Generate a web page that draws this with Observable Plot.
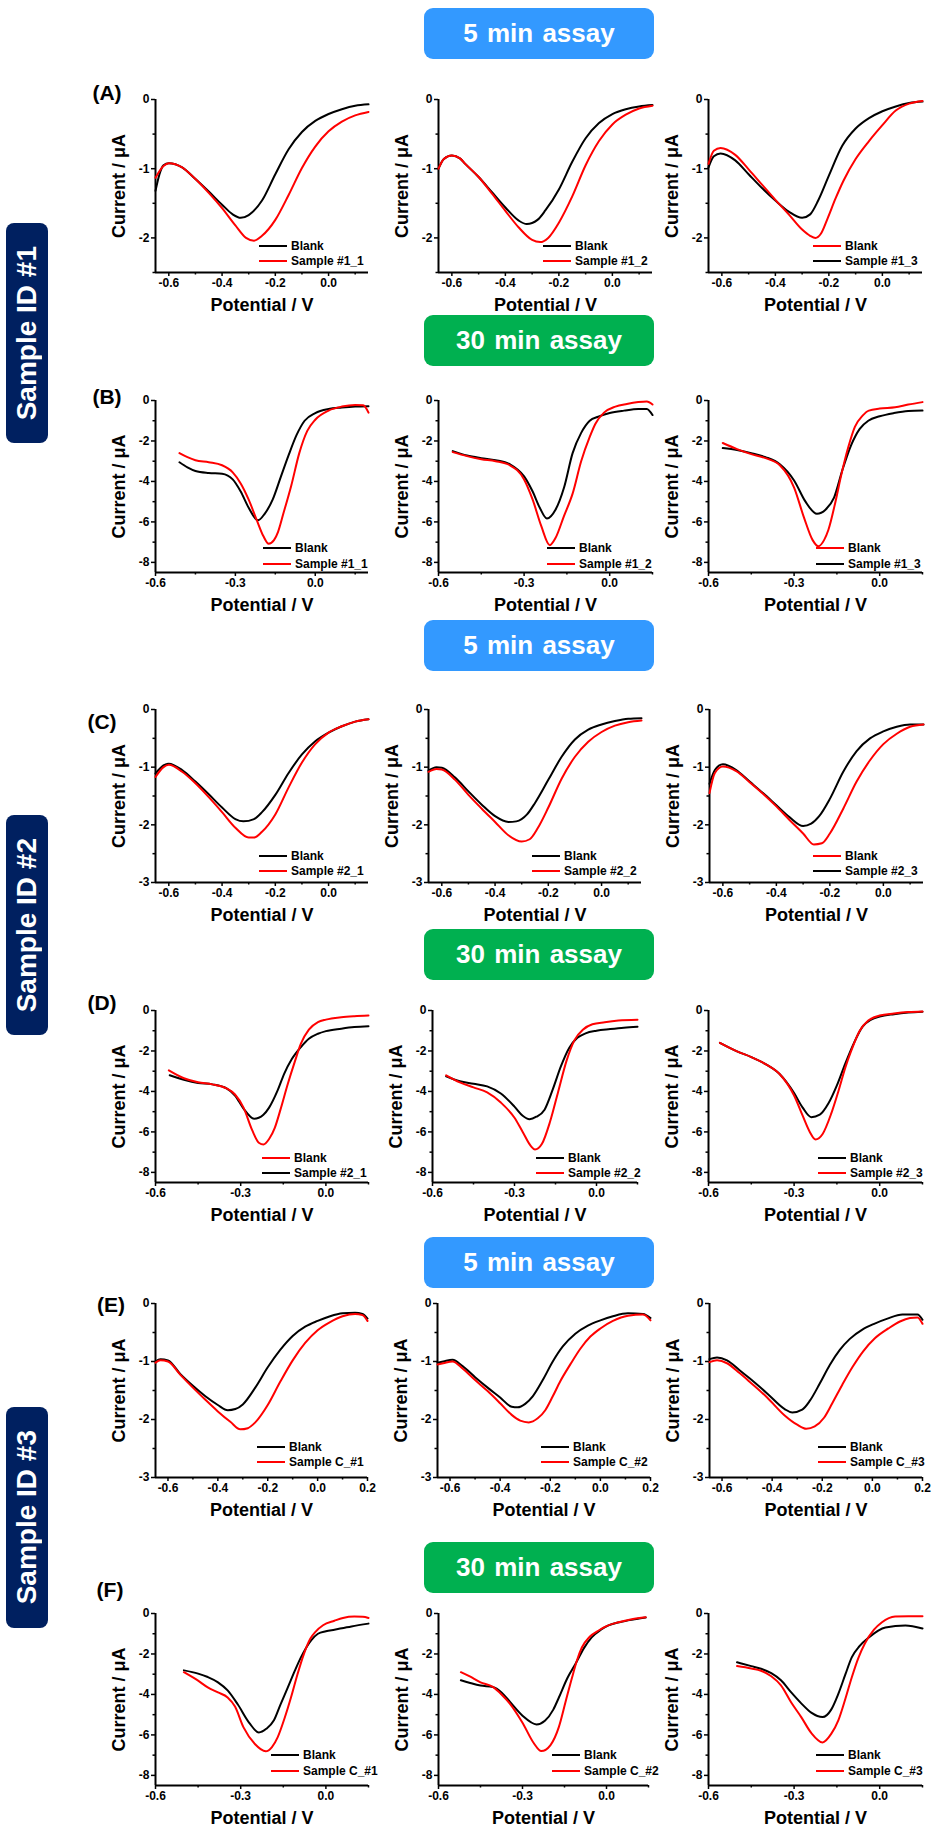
<!DOCTYPE html>
<html><head><meta charset="utf-8">
<script src="https://cdn.jsdelivr.net/npm/d3@7"></script>
<script src="https://cdn.jsdelivr.net/npm/@observablehq/plot@0.6"></script>
<style>
body{margin:0;background:#fff;}
#fig{position:relative;width:932px;height:1829px;overflow:hidden;font-family:'Liberation Sans',Arial,sans-serif;background:#fff;}
.banner{position:absolute;left:424px;width:230px;height:51px;border-radius:9px;color:#fff;font-weight:bold;font-size:26px;display:flex;align-items:center;justify-content:center;word-spacing:2px;}
.side{position:absolute;left:6px;width:42px;border-radius:8px;background:#002060;color:#fff;display:flex;align-items:center;justify-content:center;}
.side span{writing-mode:vertical-rl;transform:rotate(180deg);font-weight:bold;font-size:28px;white-space:nowrap;}
.letter{position:absolute;font-weight:bold;font-size:21px;transform:translate(-50%,-50%);}
svg.panel{position:absolute;overflow:visible;}
svg.panel text{font-weight:bold;}
svg.panel g[aria-label$="tick label"] text{font-size:12px !important;font-weight:bold !important;fill:#000;}
</style></head>
<body><div id="fig"></div>
<script>
// ---------- DATA (Potential V, Current µA) ----------
const a1Black=[[-0.65,-1.32],[-0.635,-1.08],[-0.62,-0.95],[-0.60,-0.92],[-0.55,-0.98],[-0.50,-1.15],[-0.45,-1.33],[-0.40,-1.52],[-0.36,-1.66],[-0.33,-1.71],[-0.30,-1.67],[-0.25,-1.46],[-0.20,-1.08],[-0.15,-0.72],[-0.10,-0.47],[-0.05,-0.31],[0.00,-0.21],[0.05,-0.14],[0.10,-0.09],[0.15,-0.07]];
const a1Red=[[-0.65,-1.13],[-0.62,-0.96],[-0.60,-0.92],[-0.55,-0.98],[-0.50,-1.15],[-0.45,-1.35],[-0.40,-1.57],[-0.35,-1.82],[-0.31,-2.0],[-0.28,-2.04],[-0.25,-1.97],[-0.20,-1.74],[-0.15,-1.38],[-0.10,-0.99],[-0.05,-0.68],[0.00,-0.46],[0.05,-0.32],[0.10,-0.23],[0.15,-0.18]];
const a2Black=[[-0.65,-1.0],[-0.63,-0.86],[-0.60,-0.81],[-0.57,-0.85],[-0.55,-0.93],[-0.50,-1.12],[-0.45,-1.34],[-0.40,-1.56],[-0.35,-1.75],[-0.32,-1.80],[-0.28,-1.74],[-0.25,-1.60],[-0.20,-1.30],[-0.15,-0.90],[-0.10,-0.56],[-0.05,-0.34],[0.00,-0.21],[0.05,-0.14],[0.10,-0.10],[0.15,-0.08]];
const a2Red=[[-0.65,-1.0],[-0.63,-0.86],[-0.60,-0.81],[-0.57,-0.85],[-0.55,-0.93],[-0.50,-1.12],[-0.45,-1.36],[-0.40,-1.61],[-0.35,-1.85],[-0.30,-2.03],[-0.27,-2.06],[-0.24,-2.0],[-0.20,-1.78],[-0.15,-1.40],[-0.10,-0.95],[-0.05,-0.60],[0.00,-0.36],[0.05,-0.22],[0.10,-0.13],[0.15,-0.09]];
const a3Black=[[-0.65,-0.98],[-0.63,-0.82],[-0.605,-0.78],[-0.55,-0.88],[-0.50,-1.08],[-0.45,-1.28],[-0.40,-1.46],[-0.35,-1.62],[-0.30,-1.71],[-0.27,-1.66],[-0.24,-1.46],[-0.20,-1.10],[-0.15,-0.67],[-0.10,-0.42],[-0.05,-0.27],[0.00,-0.17],[0.05,-0.10],[0.10,-0.05],[0.15,-0.03]];
const a3Red=[[-0.65,-0.93],[-0.63,-0.74],[-0.605,-0.70],[-0.55,-0.80],[-0.50,-1.01],[-0.45,-1.23],[-0.40,-1.45],[-0.35,-1.66],[-0.30,-1.88],[-0.27,-1.97],[-0.25,-2.0],[-0.23,-1.94],[-0.205,-1.72],[-0.175,-1.43],[-0.145,-1.17],[-0.10,-0.86],[-0.05,-0.60],[0.00,-0.37],[0.05,-0.16],[0.10,-0.06],[0.15,-0.02]];
const b1Black=[[-0.51,-3.05],[-0.48,-3.3],[-0.45,-3.48],[-0.40,-3.58],[-0.35,-3.62],[-0.31,-3.9],[-0.28,-4.5],[-0.25,-5.3],[-0.215,-5.92],[-0.19,-5.6],[-0.16,-4.9],[-0.13,-3.8],[-0.10,-2.7],[-0.07,-1.7],[-0.04,-1.0],[0.00,-0.62],[0.05,-0.42],[0.10,-0.35],[0.15,-0.3],[0.20,-0.28]];
const b1Red=[[-0.51,-2.6],[-0.48,-2.8],[-0.45,-2.95],[-0.40,-3.05],[-0.35,-3.2],[-0.31,-3.55],[-0.28,-4.1],[-0.25,-4.9],[-0.22,-5.9],[-0.195,-6.7],[-0.175,-7.08],[-0.155,-6.9],[-0.14,-6.5],[-0.12,-5.6],[-0.09,-4.2],[-0.06,-2.6],[-0.03,-1.5],[0.00,-0.95],[0.05,-0.5],[0.10,-0.3],[0.15,-0.22],[0.18,-0.24],[0.20,-0.6]];
const b2Black=[[-0.55,-2.5],[-0.50,-2.72],[-0.45,-2.85],[-0.40,-2.95],[-0.35,-3.15],[-0.30,-3.75],[-0.27,-4.5],[-0.245,-5.3],[-0.22,-5.83],[-0.19,-5.4],[-0.16,-4.3],[-0.13,-2.6],[-0.10,-1.6],[-0.07,-1.0],[-0.04,-0.8],[0.00,-0.62],[0.05,-0.5],[0.10,-0.42],[0.13,-0.42],[0.15,-0.72]];
const b2Red=[[-0.55,-2.55],[-0.50,-2.75],[-0.45,-2.9],[-0.40,-3.0],[-0.35,-3.2],[-0.30,-3.9],[-0.27,-4.9],[-0.24,-6.2],[-0.21,-7.15],[-0.19,-6.8],[-0.16,-5.7],[-0.13,-4.6],[-0.10,-3.0],[-0.07,-1.8],[-0.05,-1.15],[-0.02,-0.6],[0.02,-0.3],[0.06,-0.17],[0.10,-0.08],[0.13,-0.05],[0.15,-0.2]];
const b3Black=[[-0.55,-2.35],[-0.50,-2.45],[-0.45,-2.6],[-0.40,-2.8],[-0.35,-3.15],[-0.30,-3.95],[-0.26,-5.0],[-0.22,-5.6],[-0.19,-5.4],[-0.16,-4.8],[-0.13,-3.4],[-0.10,-2.2],[-0.07,-1.4],[-0.04,-1.0],[0.00,-0.78],[0.05,-0.62],[0.10,-0.52],[0.15,-0.5]];
const b3Red=[[-0.55,-2.1],[-0.50,-2.4],[-0.45,-2.65],[-0.40,-2.85],[-0.35,-3.2],[-0.30,-4.3],[-0.265,-5.8],[-0.235,-6.9],[-0.215,-7.2],[-0.195,-6.9],[-0.18,-6.4],[-0.155,-5.0],[-0.135,-3.7],[-0.11,-2.3],[-0.087,-1.3],[-0.06,-0.75],[-0.038,-0.5],[0.00,-0.4],[0.054,-0.33],[0.10,-0.2],[0.15,-0.08]];
const c1Black=[[-0.65,-1.11],[-0.62,-0.97],[-0.60,-0.94],[-0.55,-1.05],[-0.50,-1.25],[-0.45,-1.47],[-0.40,-1.70],[-0.35,-1.90],[-0.32,-1.94],[-0.28,-1.90],[-0.25,-1.78],[-0.20,-1.48],[-0.15,-1.10],[-0.10,-0.78],[-0.05,-0.55],[0.00,-0.40],[0.05,-0.29],[0.10,-0.21],[0.15,-0.17]];
const c1Red=[[-0.65,-1.17],[-0.62,-1.0],[-0.60,-0.96],[-0.55,-1.08],[-0.50,-1.28],[-0.45,-1.52],[-0.40,-1.78],[-0.35,-2.05],[-0.30,-2.22],[-0.28,-2.22],[-0.25,-2.12],[-0.20,-1.82],[-0.15,-1.35],[-0.10,-0.92],[-0.05,-0.60],[0.00,-0.40],[0.05,-0.29],[0.10,-0.21],[0.15,-0.17]];
const c2Black=[[-0.65,-1.06],[-0.62,-1.0],[-0.60,-1.01],[-0.55,-1.18],[-0.50,-1.42],[-0.45,-1.65],[-0.40,-1.85],[-0.35,-1.95],[-0.32,-1.94],[-0.28,-1.82],[-0.25,-1.62],[-0.20,-1.22],[-0.15,-0.82],[-0.10,-0.52],[-0.05,-0.35],[0.00,-0.26],[0.05,-0.2],[0.10,-0.16],[0.15,-0.15]];
const c2Red=[[-0.65,-1.08],[-0.62,-1.03],[-0.60,-1.04],[-0.55,-1.22],[-0.50,-1.48],[-0.45,-1.72],[-0.40,-1.95],[-0.35,-2.18],[-0.30,-2.29],[-0.27,-2.25],[-0.24,-2.06],[-0.20,-1.70],[-0.15,-1.20],[-0.10,-0.82],[-0.05,-0.56],[0.00,-0.39],[0.05,-0.28],[0.10,-0.22],[0.15,-0.19]];
const c3Black=[[-0.65,-1.29],[-0.63,-1.05],[-0.60,-0.95],[-0.55,-1.05],[-0.50,-1.25],[-0.45,-1.45],[-0.40,-1.66],[-0.35,-1.87],[-0.30,-2.02],[-0.27,-1.98],[-0.24,-1.85],[-0.20,-1.55],[-0.15,-1.08],[-0.10,-0.72],[-0.05,-0.5],[0.00,-0.38],[0.05,-0.3],[0.10,-0.26],[0.15,-0.26]];
const c3Red=[[-0.65,-1.45],[-0.63,-1.1],[-0.60,-0.99],[-0.55,-1.07],[-0.50,-1.26],[-0.45,-1.46],[-0.40,-1.68],[-0.35,-1.92],[-0.30,-2.15],[-0.26,-2.34],[-0.23,-2.32],[-0.20,-2.15],[-0.15,-1.72],[-0.10,-1.25],[-0.05,-0.88],[0.00,-0.6],[0.05,-0.42],[0.10,-0.3],[0.15,-0.26]];
const d1Black=[[-0.55,-3.2],[-0.50,-3.42],[-0.45,-3.58],[-0.40,-3.65],[-0.35,-3.85],[-0.32,-4.2],[-0.29,-4.85],[-0.253,-5.35],[-0.22,-5.15],[-0.20,-4.8],[-0.17,-3.95],[-0.147,-3.13],[-0.12,-2.4],[-0.088,-1.81],[-0.06,-1.4],[-0.028,-1.15],[0.00,-1.02],[0.054,-0.9],[0.10,-0.82],[0.15,-0.78]];
const d1Red=[[-0.553,-2.96],[-0.50,-3.35],[-0.45,-3.55],[-0.40,-3.65],[-0.35,-3.85],[-0.32,-4.15],[-0.29,-4.8],[-0.26,-5.9],[-0.235,-6.55],[-0.22,-6.62],[-0.20,-6.35],[-0.18,-5.8],[-0.16,-4.9],[-0.134,-3.62],[-0.11,-2.55],[-0.088,-1.64],[-0.06,-0.95],[-0.028,-0.58],[0.00,-0.45],[0.054,-0.33],[0.10,-0.28],[0.15,-0.25]];
const d2Black=[[-0.55,-3.25],[-0.50,-3.5],[-0.45,-3.62],[-0.40,-3.75],[-0.35,-4.1],[-0.30,-4.75],[-0.27,-5.2],[-0.245,-5.37],[-0.22,-5.25],[-0.19,-4.9],[-0.16,-3.9],[-0.13,-2.75],[-0.10,-1.85],[-0.07,-1.35],[-0.04,-1.13],[0.00,-1.0],[0.05,-0.92],[0.10,-0.85],[0.15,-0.8]];
const d2Red=[[-0.55,-3.2],[-0.50,-3.55],[-0.45,-3.8],[-0.40,-4.05],[-0.35,-4.55],[-0.30,-5.3],[-0.27,-6.0],[-0.24,-6.7],[-0.225,-6.87],[-0.20,-6.6],[-0.17,-5.5],[-0.14,-4.0],[-0.11,-2.5],[-0.08,-1.45],[-0.05,-0.95],[-0.015,-0.68],[0.03,-0.58],[0.08,-0.5],[0.15,-0.46]];
const d3Black=[[-0.56,-1.6],[-0.50,-2.02],[-0.45,-2.3],[-0.40,-2.65],[-0.35,-3.15],[-0.30,-4.08],[-0.27,-4.8],[-0.24,-5.27],[-0.21,-5.15],[-0.18,-4.6],[-0.15,-3.7],[-0.12,-2.6],[-0.09,-1.6],[-0.06,-0.8],[-0.03,-0.45],[0.00,-0.3],[0.05,-0.18],[0.10,-0.1],[0.15,-0.06]];
const d3Red=[[-0.56,-1.6],[-0.50,-2.02],[-0.45,-2.3],[-0.40,-2.65],[-0.35,-3.15],[-0.30,-4.2],[-0.27,-5.2],[-0.245,-6.0],[-0.225,-6.37],[-0.20,-6.1],[-0.17,-5.1],[-0.145,-4.0],[-0.12,-2.8],[-0.10,-2.0],[-0.07,-1.0],[-0.04,-0.5],[0.00,-0.25],[0.05,-0.15],[0.10,-0.08],[0.15,-0.05]];
const e1Black=[[-0.65,-1.0],[-0.63,-0.96],[-0.60,-0.98],[-0.55,-1.22],[-0.50,-1.42],[-0.45,-1.6],[-0.40,-1.75],[-0.36,-1.84],[-0.33,-1.82],[-0.30,-1.74],[-0.25,-1.45],[-0.20,-1.1],[-0.15,-0.8],[-0.10,-0.56],[-0.05,-0.4],[0.00,-0.3],[0.05,-0.22],[0.10,-0.17],[0.15,-0.16],[0.18,-0.18],[0.20,-0.26]];
const e1Red=[[-0.65,-1.02],[-0.63,-0.98],[-0.60,-1.0],[-0.55,-1.23],[-0.50,-1.45],[-0.45,-1.66],[-0.40,-1.86],[-0.35,-2.04],[-0.31,-2.17],[-0.28,-2.15],[-0.25,-2.05],[-0.20,-1.75],[-0.15,-1.35],[-0.10,-0.98],[-0.05,-0.68],[0.00,-0.46],[0.05,-0.32],[0.10,-0.22],[0.15,-0.18],[0.18,-0.2],[0.20,-0.3]];
const e2Black=[[-0.65,-1.02],[-0.627,-1.0],[-0.59,-0.97],[-0.55,-1.08],[-0.50,-1.27],[-0.45,-1.45],[-0.40,-1.62],[-0.354,-1.78],[-0.33,-1.79],[-0.30,-1.73],[-0.27,-1.6],[-0.23,-1.32],[-0.19,-1.0],[-0.15,-0.74],[-0.10,-0.52],[-0.05,-0.38],[0.00,-0.29],[0.05,-0.22],[0.11,-0.17],[0.17,-0.18],[0.20,-0.25]];
const e2Red=[[-0.65,-1.05],[-0.627,-1.03],[-0.59,-1.0],[-0.55,-1.12],[-0.50,-1.32],[-0.45,-1.51],[-0.40,-1.72],[-0.354,-1.92],[-0.32,-2.02],[-0.286,-2.05],[-0.25,-1.98],[-0.22,-1.84],[-0.19,-1.6],[-0.16,-1.34],[-0.12,-1.05],[-0.08,-0.78],[-0.04,-0.57],[0.00,-0.43],[0.05,-0.3],[0.11,-0.21],[0.17,-0.19],[0.20,-0.29]];
const e3Black=[[-0.65,-0.96],[-0.62,-0.93],[-0.58,-0.98],[-0.53,-1.15],[-0.49,-1.29],[-0.42,-1.55],[-0.35,-1.82],[-0.32,-1.88],[-0.28,-1.83],[-0.25,-1.68],[-0.21,-1.38],[-0.17,-1.06],[-0.13,-0.8],[-0.09,-0.61],[-0.04,-0.45],[0.007,-0.35],[0.06,-0.26],[0.12,-0.19],[0.18,-0.19],[0.20,-0.28]];
const e3Red=[[-0.65,-1.01],[-0.62,-0.98],[-0.58,-1.03],[-0.53,-1.2],[-0.49,-1.35],[-0.42,-1.62],[-0.35,-1.93],[-0.30,-2.09],[-0.264,-2.16],[-0.23,-2.12],[-0.193,-1.97],[-0.16,-1.72],[-0.12,-1.4],[-0.08,-1.1],[-0.036,-0.82],[0.01,-0.6],[0.064,-0.43],[0.11,-0.31],[0.15,-0.25],[0.18,-0.24],[0.20,-0.35]];
const f1Black=[[-0.50,-2.81],[-0.45,-2.97],[-0.416,-3.14],[-0.38,-3.4],[-0.346,-3.8],[-0.31,-4.5],[-0.27,-5.4],[-0.236,-5.88],[-0.21,-5.7],[-0.183,-5.28],[-0.16,-4.5],[-0.134,-3.65],[-0.11,-2.85],[-0.088,-2.17],[-0.07,-1.7],[-0.052,-1.33],[-0.028,-1.0],[0.00,-0.88],[0.03,-0.8],[0.09,-0.64],[0.15,-0.5]];
const f1Red=[[-0.50,-2.9],[-0.45,-3.32],[-0.416,-3.65],[-0.38,-3.9],[-0.346,-4.15],[-0.32,-4.6],[-0.29,-5.63],[-0.25,-6.45],[-0.212,-6.81],[-0.19,-6.6],[-0.17,-6.12],[-0.145,-5.15],[-0.123,-4.15],[-0.10,-3.0],[-0.077,-1.98],[-0.055,-1.25],[-0.035,-0.88],[-0.01,-0.58],[0.03,-0.36],[0.06,-0.22],[0.10,-0.15],[0.13,-0.16],[0.15,-0.22]];
const f2Black=[[-0.52,-3.3],[-0.49,-3.42],[-0.45,-3.56],[-0.406,-3.63],[-0.375,-3.9],[-0.346,-4.35],[-0.30,-5.05],[-0.25,-5.48],[-0.22,-5.3],[-0.19,-4.75],[-0.17,-4.15],[-0.14,-3.2],[-0.11,-2.47],[-0.08,-1.7],[-0.053,-1.18],[-0.02,-0.8],[0.007,-0.59],[0.05,-0.42],[0.10,-0.29],[0.14,-0.2]];
const f2Red=[[-0.52,-2.9],[-0.49,-3.1],[-0.45,-3.4],[-0.406,-3.63],[-0.375,-4.0],[-0.346,-4.44],[-0.30,-5.4],[-0.26,-6.4],[-0.233,-6.8],[-0.20,-6.5],[-0.17,-5.6],[-0.145,-4.3],[-0.123,-3.16],[-0.105,-2.3],[-0.088,-1.68],[-0.06,-1.15],[-0.028,-0.84],[0.00,-0.62],[0.043,-0.43],[0.09,-0.28],[0.14,-0.18]];
const f3Black=[[-0.50,-2.41],[-0.45,-2.6],[-0.416,-2.73],[-0.38,-2.95],[-0.346,-3.3],[-0.31,-3.9],[-0.275,-4.44],[-0.24,-4.9],[-0.20,-5.12],[-0.17,-4.75],[-0.145,-3.97],[-0.12,-3.0],[-0.098,-2.17],[-0.07,-1.6],[-0.038,-1.18],[0.02,-0.69],[0.09,-0.59],[0.15,-0.74]];
const f3Red=[[-0.50,-2.6],[-0.45,-2.72],[-0.416,-2.83],[-0.38,-3.1],[-0.346,-3.55],[-0.31,-4.4],[-0.275,-5.12],[-0.24,-5.9],[-0.20,-6.37],[-0.17,-5.95],[-0.145,-5.28],[-0.12,-4.2],[-0.098,-3.16],[-0.075,-2.2],[-0.052,-1.48],[-0.02,-0.8],[0.008,-0.43],[0.054,-0.15],[0.10,-0.13],[0.15,-0.14]];

// tick values
const xTicks5 = [-0.6,-0.4,-0.2,0];
const xMinor5 = [-0.5,-0.3,-0.1,0.1];
const xTicksE = [-0.6,-0.4,-0.2,0,0.2];
const xTicks30 = [-0.6,-0.3,0];
const xMinor30 = [-0.45,-0.15,0.15];
const yTicksA = [0,-1,-2];
const yTicks3 = [0,-1,-2,-3];
const yMinor3 = [-0.5,-1.5,-2.5];
const yTicks8 = [0,-2,-4,-6,-8];
const yMinor8 = [-1,-3,-5,-7];

// texts
const panelLetters = ["(A)","(B)","(C)","(D)","(E)","(F)"];
const bannerTexts = ["5 min assay","30 min assay","5 min assay","30 min assay","5 min assay","30 min assay"];
const sideTexts = ["Sample ID #1","Sample ID #2","Sample ID #3"];
const legendA = [["Blank","Sample #1_1"],["Blank","Sample #1_2"],["Blank","Sample #1_3"]];
const legendC = [["Blank","Sample #2_1"],["Blank","Sample #2_2"],["Blank","Sample #2_3"]];
const legendE = [["Blank","Sample C_#1"],["Blank","Sample C_#2"],["Blank","Sample C_#3"]];

// ---------- LAYOUT ----------
const rows = [
 {top:99,bottom:272,cols:[[155,368],[438,652],[708,922]],xd:[[-0.65,0.15],[-0.65,0.15],[-0.65,0.15]],yd:[-2.5,0],xT:xTicks5,xM:xMinor5,yT:yTicksA,yM:yMinor3,lr:[26,11],ll:[109,109,109],
  series:[[a1Black,a1Red],[a2Black,a2Red],[a3Black,a3Red]],leg:legendA,legCol:[["black","red"],["black","red"],["red","black"]]},
 {top:400,bottom:572,cols:[[155,368],[438,652],[708,922]],xd:[[-0.6,0.2],[-0.6,0.15],[-0.6,0.15]],yd:[-8.5,0],xT:xTicks30,xM:xMinor30,yT:yTicks8,yM:yMinor8,lr:[24,8],ll:[105,105,106],
  series:[[b1Black,b1Red],[b2Black,b2Red],[b3Black,b3Red]],leg:legendA,legCol:[["black","red"],["black","red"],["red","black"]]},
 {top:709,bottom:882,cols:[[155,368],[428,641],[709,923]],xd:[[-0.65,0.15],[-0.65,0.15],[-0.65,0.15]],yd:[-3,0],xT:xTicks5,xM:xMinor5,yT:yTicks3,yM:yMinor3,lr:[26,11],ll:[109,109,110],
  series:[[c1Black,c1Red],[c2Black,c2Red],[c3Black,c3Red]],leg:legendC,legCol:[["black","red"],["black","red"],["red","black"]]},
 {top:1010,bottom:1182,cols:[[155,368],[432,637],[708,922]],xd:[[-0.6,0.15],[-0.6,0.15],[-0.6,0.15]],yd:[-8.5,0],xT:xTicks30,xM:xMinor30,yT:yTicks8,yM:yMinor8,lr:[24,9],ll:[106,101,104],
  series:[[d1Black,d1Red],[d2Black,d2Red],[d3Black,d3Red]],leg:legendC,legCol:[["red","black"],["black","red"],["black","red"]]},
 {top:1303,bottom:1477,cols:[[155,367],[437,650],[709,922]],xd:[[-0.65,0.2],[-0.65,0.2],[-0.65,0.2]],yd:[-3,0],xT:xTicksE,xM:xMinor5,yT:yTicks3,yM:yMinor3,lr:[30,15],ll:[110,109,104],
  series:[[e1Black,e1Red],[e2Black,e2Red],[e3Black,e3Red]],leg:legendE,legCol:[["black","red"],["black","red"],["black","red"]]},
 {top:1613,bottom:1785,cols:[[155,368],[438,648],[708,922]],xd:[[-0.6,0.15],[-0.6,0.15],[-0.6,0.15]],yd:[-8.5,0],xT:xTicks30,xM:xMinor30,yT:yTicks8,yM:yMinor8,lr:[30,14],ll:[97,96,106],
  series:[[f1Black,f1Red],[f2Black,f2Red],[f3Black,f3Red]],leg:legendE,legCol:[["black","red"],["black","red"],["black","red"]]}
];
const bannerPos = [[8,"#3399ff"],[315,"#00b050"],[620,"#3399ff"],[929,"#00b050"],[1237,"#3399ff"],[1542,"#00b050"]];
const letterPos = [[107,93],[107,397],[102,722],[102,1003],[111,1305],[110,1590]];
const sidePos = [[223,443],[815,1035],[1407,1628]];

const fig = document.getElementById("fig");
const fmtX = d => Math.abs(d) < 1e-9 ? "0.0" : d.toFixed(1);
const fmtY = d => d === 0 ? "0" : String(d);
const RED = "#ff0000";

bannerTexts.forEach((t,i)=>{
  const b = document.createElement("div");
  b.className = "banner"; b.textContent = t;
  b.style.top = bannerPos[i][0]+"px"; b.style.background = bannerPos[i][1];
  fig.appendChild(b);
});
sideTexts.forEach((t,i)=>{
  const s = document.createElement("div");
  s.className = "side"; s.style.top = sidePos[i][0]+"px"; s.style.height = (sidePos[i][1]-sidePos[i][0])+"px";
  const sp = document.createElement("span"); sp.textContent = t; s.appendChild(sp);
  fig.appendChild(s);
});
panelLetters.forEach((t,i)=>{
  const l = document.createElement("div");
  l.className = "letter"; l.textContent = t;
  l.style.left = letterPos[i][0]+"px"; l.style.top = letterPos[i][1]+"px";
  fig.appendChild(l);
});

const mL = 62, mR = 24, mT = 12, mB = 48;
rows.forEach((r)=>{
  r.cols.forEach(([left,right],c)=>{
    const w = right-left, h = r.bottom-r.top;
    const [blk, red] = r.series[c];
    const labels = r.leg[c], cols = r.legCol[c].map(k => k === "red" ? RED : "#000");
    const legOff = r.ll[c], rowOff = r.lr;
    const legend = () => {
      const g = d3.create("svg:g").attr("text-anchor","start");
      const L = mL + w - legOff, yb = mT + h;
      labels.forEach((lab,i)=>{
        const y = yb - rowOff[i];
        g.append("line").attr("x1",L).attr("x2",L+28).attr("y1",y).attr("y2",y).attr("stroke",cols[i]).attr("stroke-width",2);
        g.append("text").attr("x",L+32).attr("y",y).attr("dy","0.36em").attr("text-anchor","start")
          .attr("font-size",12).attr("font-weight","bold").attr("fill","#000").text(lab);
      });
      return g.node();
    };
    const chart = Plot.plot({
      width: w+mL+mR, height: h+mT+mB,
      marginLeft: mL, marginRight: mR, marginTop: mT, marginBottom: mB,
      x: {domain: r.xd[c]},
      y: {domain: r.yd},
      style: {fontFamily: "'Liberation Sans', Arial, sans-serif", fontWeight: "bold", fontSize: "12px", background: "transparent", color: "#000", overflow: "visible"},
      marks: [
        Plot.axisX({ticks: r.xT, tickSize: 4, tickPadding: 2, tickFormat: fmtX, label: null, strokeWidth: 1.5, fontSize: 12, fontWeight: "bold"}),
        Plot.axisX({ticks: r.xM.filter(v => v <= r.xd[c][1]+1e-9), tickSize: 2.5, tickFormat: () => "", label: null, strokeWidth: 1.5}),
        Plot.axisY({ticks: r.yT, tickSize: 4, tickPadding: 2, tickFormat: fmtY, label: null, strokeWidth: 1.5, fontSize: 12, fontWeight: "bold"}),
        Plot.axisY({ticks: r.yM, tickSize: 2.5, tickFormat: () => "", label: null, strokeWidth: 1.5}),
        Plot.ruleX([r.xd[c][0]], {stroke: "#000", strokeWidth: 2}),
        Plot.ruleY([r.yd[0]], {stroke: "#000", strokeWidth: 2}),
        Plot.line(blk, {x: d=>d[0], y: d=>d[1], stroke: "#000", strokeWidth: 2, curve: "monotone-x"}),
        Plot.line(red, {x: d=>d[0], y: d=>d[1], stroke: RED, strokeWidth: 2, curve: "monotone-x"}),
        Plot.text(["Current / μA"], {text: d=>d, frameAnchor: "left", textAnchor: "middle", lineAnchor: "middle", rotate: -90, dx: -36, fontSize: 18, fontWeight: "bold", fill: "#000"}),
        Plot.text(["Potential / V"], {text: d=>d, frameAnchor: "bottom", textAnchor: "middle", lineAnchor: "middle", dy: 33, fontSize: 18, fontWeight: "bold", fill: "#000"}),
        legend
      ]
    });
    chart.classList.add("panel");
    chart.style.left = (left-mL)+"px";
    chart.style.top = (r.top-mT)+"px";
    fig.appendChild(chart);
  });
});
</script>
</body></html>
